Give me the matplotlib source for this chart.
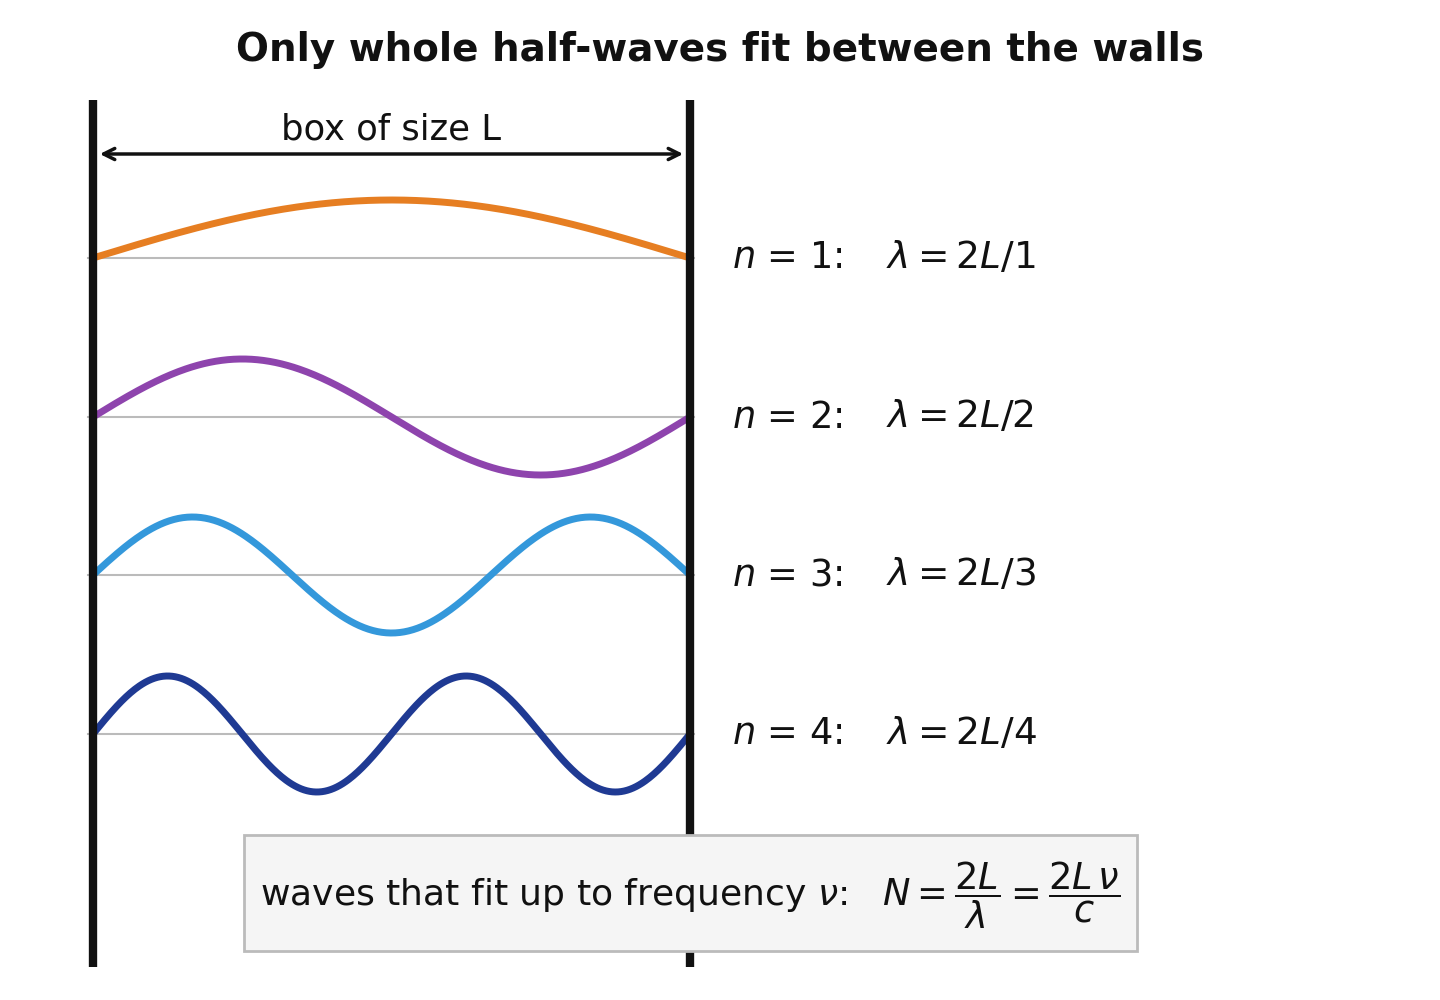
import numpy as np
import matplotlib
matplotlib.use("Agg")
import matplotlib.pyplot as plt

modes = [1, 2, 3, 4]
colors = ["#e67e22", "#8e44ad", "#3498db", "#1f3a93"]
baselines = [258, 417, 575, 734]
amp = 58

fig = plt.figure(figsize=(14.4, 10), dpi=100)
ax = fig.add_axes([0, 0, 1, 1])
ax.set_xlim(0, 1440)
ax.set_ylim(1000, 0)
ax.axis("off")

x0, x1 = 93, 690
x = np.linspace(0, 1, 400)
for n, c, b in zip(modes, colors, baselines):
    ax.plot([88, 694], [b, b], color="#bbbbbb", lw=1.5, zorder=1)
    ax.plot(x0 + x * (x1 - x0), b - amp * np.sin(n * np.pi * x), color=c, lw=5, zorder=2,
            solid_capstyle="butt")
    ax.text(732, b, rf"$n$ = {n}:", fontsize=26.5, va="center", ha="left", color="#111111")
    ax.text(886, b, rf"$\lambda = 2L/{n}$", fontsize=27, va="center", ha="left", color="#111111")

for xw in (x0, x1):
    ax.plot([xw, xw], [100, 967], color="#111111", lw=6, zorder=3, solid_capstyle="butt")

ax.annotate("", xy=(686, 154), xytext=(97, 154),
            arrowprops=dict(arrowstyle="<->", lw=2.5, color="#111111", mutation_scale=20))
ax.text(391, 130, "box of size L", fontsize=25.5, ha="center", va="center", color="#111111")

ax.text(720, 50, "Only whole half-waves fit between the walls", fontsize=28, fontweight="bold",
        ha="center", va="center", color="#111111")

box = plt.Rectangle((244, 835), 893, 116, facecolor="#f5f5f5", edgecolor="#bbbbbb", lw=2, zorder=4)
ax.add_patch(box)
ax.text(260, 895, r"waves that fit up to frequency $\nu$:",
        fontsize=26, ha="left", va="center", color="#111111", zorder=5)
ax.text(882, 895, r"$N = \dfrac{2L}{\lambda} = \dfrac{2L\,\nu}{c}$",
        fontsize=26.5, ha="left", va="center", color="#111111", zorder=5)

fig.savefig("out.png", dpi=100)
